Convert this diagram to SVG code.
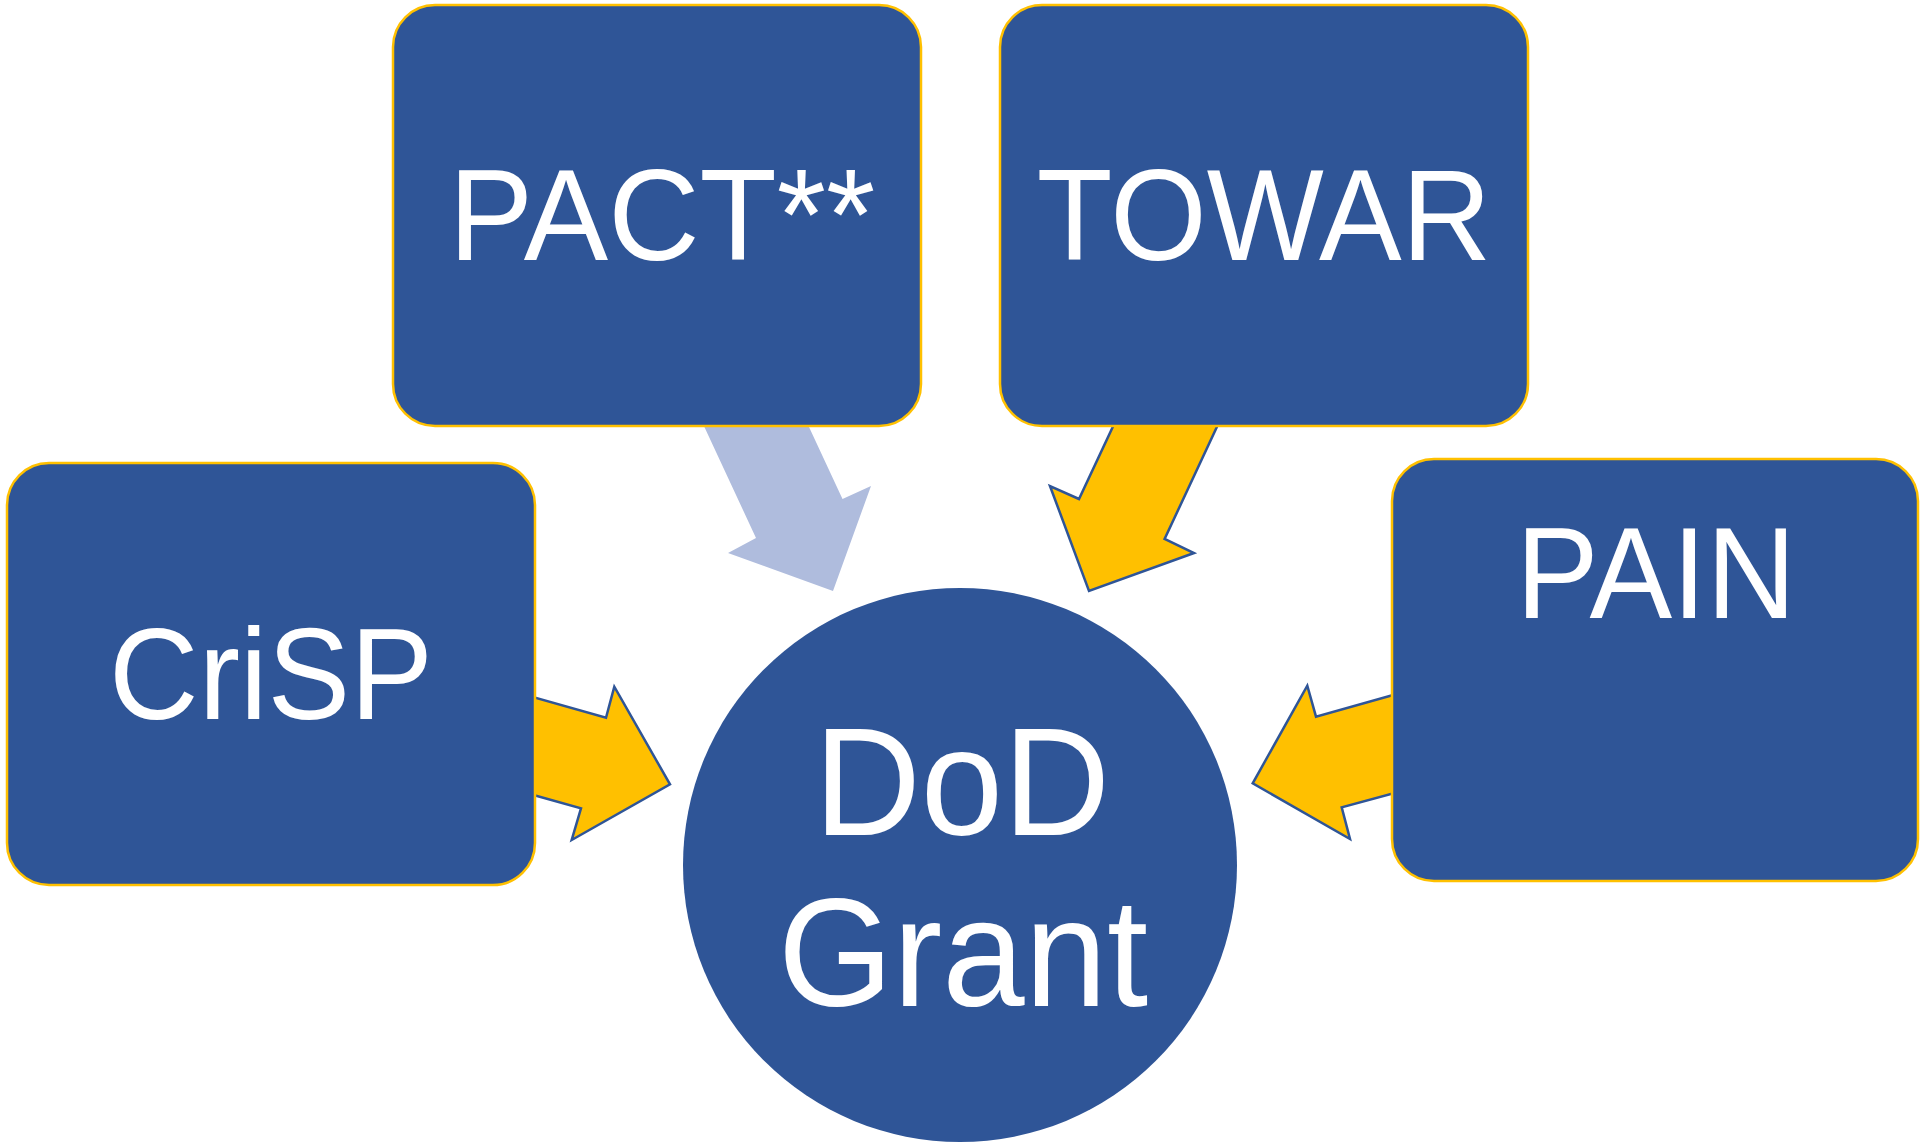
<svg xmlns="http://www.w3.org/2000/svg" width="1921" height="1146" viewBox="0 0 1921 1146">
  <style>
    .box { fill: #2F5597; stroke: #FFC000; stroke-width: 2.5; }
    .hub { fill: #2F5597; }
    .lbl { fill: #FFFFFF; font-family: "Liberation Sans", Arial, sans-serif; font-size: 124px; text-anchor: middle; }
    .hublbl { fill: #FFFFFF; font-family: "Liberation Sans", Arial, sans-serif; font-size: 148px; text-anchor: middle; }
    .arr-gold { fill: #FFC000; stroke: #2F5597; stroke-width: 2.5; stroke-linejoin: miter; }
    .arr-light { fill: #AFBCDD; stroke: none; }
  </style>
  <rect width="1921" height="1146" fill="#FFFFFF"/>

  <g id="connectors">
    <polygon id="arrow-pact" class="arr-light" points="690,396 756,538 728,553 833,591 871,486 842.5,499 776,356"/>
    <polygon id="arrow-towar" class="arr-gold" points="1146,356 1079,499 1050,486 1089,591 1194,553 1164.6,539 1250,356"/>
    <polygon id="arrow-crisp" class="arr-gold" points="480,682 606,717.7 614.3,686.7 670,784.3 571.7,840 581,808.3 480,780"/>
    <polygon id="arrow-pain" class="arr-gold" points="1450,679 1316,716.7 1307.3,685.7 1252.7,783.3 1350,839 1341.7,807.3 1450,778"/>
  </g>

  <g id="node-pact">
    <rect class="box" x="393" y="5" width="528" height="421" rx="42" ry="42"/>
    <text class="lbl" transform="translate(662,260) scale(1.02,1.045)" x="0" y="0">PACT**</text>
  </g>
  <g id="node-towar">
    <rect class="box" x="1000" y="5" width="528" height="421" rx="42" ry="42"/>
    <text class="lbl" transform="translate(1264,260) scale(1,1.045)" x="0" y="0">TOWAR</text>
  </g>
  <g id="node-crisp">
    <rect class="box" x="7" y="463" width="528" height="422" rx="42" ry="42"/>
    <text class="lbl" transform="translate(271,719) scale(1,1.045)" x="0" y="0">CriSP</text>
  </g>
  <g id="node-pain">
    <rect class="box" x="1392" y="459" width="526" height="422" rx="42" ry="42"/>
    <text class="lbl" transform="translate(1656,618) scale(1,1.045)" x="0" y="0">PAIN</text>
  </g>
  <g id="node-dod">
    <circle class="hub" cx="960" cy="865" r="277"/>
    <text class="hublbl" transform="translate(962,835) scale(1,1.045)" x="0" y="0">DoD</text>
    <text class="hublbl" transform="translate(963,1006) scale(1,1.045)" x="0" y="0">Grant</text>
  </g>
</svg>
